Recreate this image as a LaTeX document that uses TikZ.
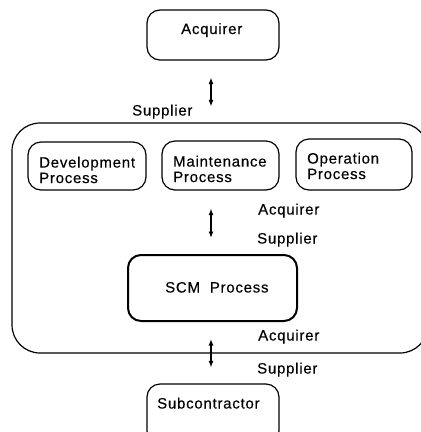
\documentclass[tikz,border=0pt]{standalone}
\usepackage{fontspec}
\newfontfamily\lblfont{Liberation Sans}[LetterSpace=5,FakeBold=0.3]
\usetikzlibrary{arrows.meta}
\begin{document}
\begin{tikzpicture}[x=1pt,y=-1pt,
  box/.style={draw=black,line width=1.2pt,rounded corners=13pt,inner sep=0pt},
  thickbox/.style={box,line width=2pt},
  lbl/.style={inner sep=0pt,font={\lblfont\fontsize{15}{15.5}\selectfont},text=black},
  twoline/.style={lbl,align=left,anchor=north west},
  link/.style={line width=1.2pt,{Latex[length=6.5pt,width=5pt]}-{Latex[length=6.5pt,width=5pt]},shorten <=17pt,shorten >=16pt}
]
\useasboundingbox (0,0) rectangle (421,432);
\clip (0,0) rectangle (421,432);
% boxes
\node[box,minimum width=132pt,minimum height=50pt] (acq) at (213,35) {};
\node[box,rounded corners=28pt,minimum width=416pt,minimum height=230pt] (big) at (220,238) {};
\node[box,minimum width=118pt,minimum height=48pt] (dev) at (87,166) {};
\node[box,minimum width=117pt,minimum height=49pt] (mnt) at (220.5,165.5) {};
\node[box,minimum width=116pt,minimum height=51pt] (opr) at (354,164.5) {};
\node[thickbox,minimum width=169pt,minimum height=66pt] (scm) at (212.5,288) {};
\node[box,minimum width=132pt,minimum height=60pt] (sub) at (213,414) {};
% texts
\node[lbl,anchor=base west] (acqT) at (181,34) {Acquirer};
\node[twoline] (devT) at (39,156.5) {Development\\Process};
\node[twoline] (mntT) at (173,155.5) {Maintenance\\Process};
\node[twoline] (oprT) at (307,152.5) {Operation\\Process};
\node[lbl,anchor=base west] (scmT) at (165,292.5) {SCM\ \ Process};
\node[lbl,anchor=base west] (subT) at (157,408.5) {Subcontractor};
\node[lbl,anchor=base west] (s1) at (132,115.5) {Supplier};
\node[lbl,anchor=base west] (a2) at (258,214.5) {Acquirer};
\node[lbl,anchor=base west] (s2) at (257,243.5) {Supplier};
\node[lbl,anchor=base west] (a3) at (258,340.5) {Acquirer};
\node[lbl,anchor=base west] (s3) at (257,373.5) {Supplier};
% connectors
\coordinate (ax) at (211,0);
\draw[link] (acq.south -| ax) -- (big.north -| ax);
\draw[link,shorten <=18pt] (mnt.south -| ax) -- (scm.north -| ax);
\draw[link] (scm.south -| ax) -- (sub.north -| ax);
\end{tikzpicture}
\end{document}
